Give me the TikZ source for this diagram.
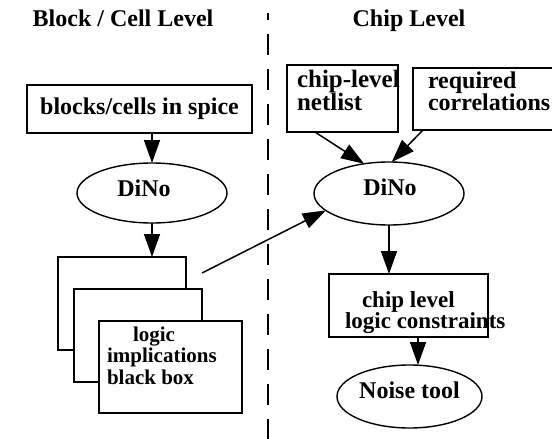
\documentclass[tikz,border=0pt]{standalone}
\usepackage{fontspec}
\setmainfont{Liberation Serif}
\usetikzlibrary{arrows.meta,shapes.geometric}
\begin{document}
\begin{tikzpicture}[x=1pt,y=-1pt,
  every node/.style={inner sep=0pt, outer sep=0pt},
  lbl/.style={font=\bfseries\fontsize{24}{22}\selectfont},
  heading/.style={font=\bfseries\fontsize{24}{24}\selectfont},
  box/.style={draw, line width=1.4pt, rectangle, fill=white},
  oval/.style={draw, line width=1.4pt, ellipse},
  arr/.style={line width=1.5pt, -{Triangle[length=23pt,width=16pt]}},
  divider/.style={line width=1.6pt, dash pattern=on 21pt off 14pt, dash phase=14pt}]
\useasboundingbox (0,0) rectangle (552,439);

% column headings and the dashed divider between them
\node[heading, anchor=base] (head1) at (123,26) {Block / Cell Level};
\node[heading, anchor=base] (head2) at (409,26) {Chip Level};
\coordinate (divtop) at (268,13);
\coordinate (divbot) at (268,439);
\draw[divider] (divtop) -- (divbot);

% block / cell level flow
\node[box, minimum width=225pt, minimum height=48pt, lbl] (blocks) at (139.5,109) {blocks/cells in spice};
\node[oval, minimum width=150pt, minimum height=60pt] (dino1) at (152,193) {};
\node[lbl] (dino1txt) at ([xshift=-8pt,yshift=5pt]dino1.center) {DiNo};

\node[box, minimum width=128pt, minimum height=93pt] (card1) at (122,303.5) {};
\node[box, minimum width=128pt, minimum height=93pt] (card2) at (138,335.5) {};
\node[box, minimum width=143pt, minimum height=92pt] (card3) at (170.5,367) {};
\node[anchor=north west, align=left, font=\bfseries\fontsize{21}{21.5}\selectfont] (cardtxt)
  at (107,326.5) {\hspace*{26pt}logic\\implications\\black box};

\draw[arr] (blocks.south -| dino1.north) -- (dino1.north);
\draw[arr] (dino1.south) -- (dino1.south |- card1.north);

% chip level flow
\node[box, minimum width=111pt, minimum height=67pt] (netlist) at (342.5,98.5) {};
\node[anchor=north west, align=left, font=\bfseries\fontsize{25}{23}\selectfont] (netlisttxt)
  at (297,70) {chip-level\\netlist};
\node[box, minimum width=152pt, minimum height=62pt] (corr) at (489,99) {};
\node[anchor=north west, align=left, font=\bfseries\fontsize{24}{20.5}\selectfont] (corrtxt)
  at (428,71.5) {required\\correlations};

\node[oval, minimum width=150pt, minimum height=63pt] (dino2) at (389,193.5) {};
\node[lbl] (dino2txt) at ([xshift=1pt,yshift=6.5pt]dino2.center) {DiNo};

\node[box, minimum width=159pt, minimum height=63pt] (cons) at (408.5,305.5) {};
\node[anchor=north west, align=left, font=\bfseries\fontsize{23}{21}\selectfont] (constxt)
  at (345,291.5) {\hspace*{17pt}chip level\\logic constraints};

\node[oval, minimum width=145pt, minimum height=63pt] (noise) at (409.5,396.5) {};
\node[lbl] (noisetxt) at ([yshift=6pt]noise.center) {Noise tool};

\draw[arr] ([xshift=28pt]netlist.south west) -- (dino2.130);
\draw[arr] ([xshift=10pt]corr.south west) -- (dino2.85);
\draw[arr] (dino2.south) -- (dino2.south |- cons.north);
\draw[arr] ([xshift=9.5pt]cons.south) -- ([xshift=9.5pt]cons.south |- noise.north);

% hand-off from the black boxes to the chip level
\coordinate (feed) at ([xshift=16pt,yshift=-16pt]card1.north east);
\draw[arr] (feed) -- (dino2.195);
\end{tikzpicture}
\end{document}
